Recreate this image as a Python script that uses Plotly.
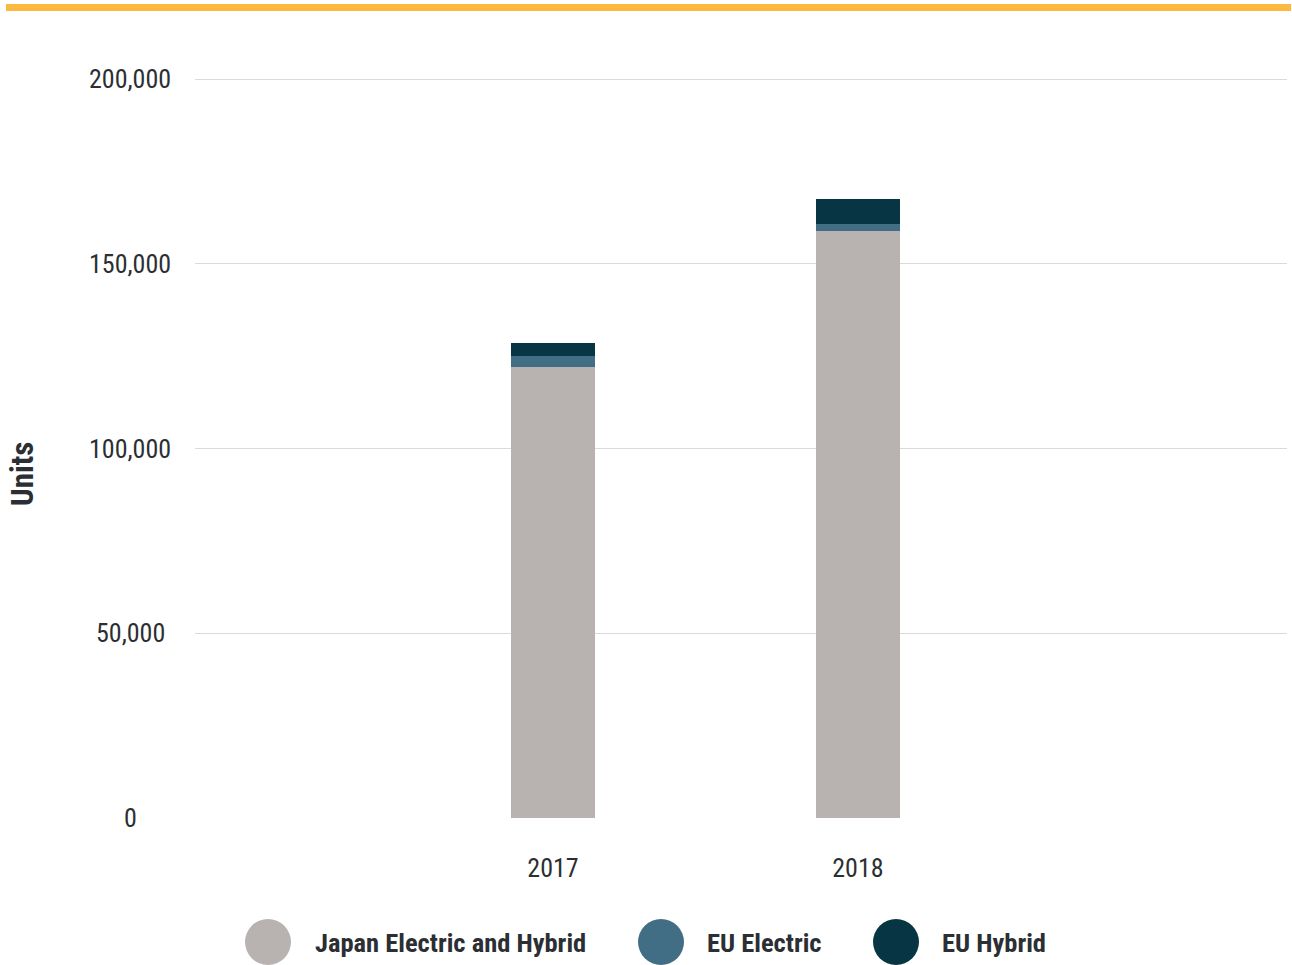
import plotly.graph_objects as go

years = [2017, 2018]
japan = [122000, 159000]
eu_electric = [3000, 1700]
eu_hybrid = [3500, 6800]
series_names = ["Japan Electric and Hybrid", "EU Electric", "EU Hybrid"]
colors = ["#B8B3B0", "#416E85", "#083544"]
y_ticks = [0, 50000, 100000, 150000, 200000]
y_tick_labels = ["0", "50,000", "100,000", "150,000", "200,000"]

W, H = 1292, 965
ML, MR, MT, MB = 195, 5, 77, 147
PW = W - ML - MR
PH = H - MT - MB
Y_MAX = 200000 * (H - MB - MT) / (H - MB - 79)  # keep 200,000 at pixel 79

FONT = "Roboto Condensed, Liberation Sans Narrow, Roboto, sans-serif"
TXT = "#2B2F33"

fig = go.Figure()
for name, vals, col in zip(series_names, [japan, eu_electric, eu_hybrid], colors):
    fig.add_trace(go.Bar(x=years, y=vals, name=name, marker_color=col,
                         marker_line_width=0, width=0.275, showlegend=False))

def px_x(p):
    return (p - ML) / PW

def px_y(p):
    return (H - MB - p) / PH

shapes = [
    dict(type="rect", xref="paper", yref="paper", x0=px_x(6), x1=px_x(1291),
         ysizemode="pixel", yanchor=1, y0=MT - 11, y1=MT - 4,
         fillcolor="#FBB93F", line_width=0, layer="above"),
]
annotations = []
# y tick labels, centred like the reference
for v, t in zip(y_ticks, y_tick_labels):
    annotations.append(dict(x=px_x(130), xref="paper", y=v, yref="y", text=t,
                            showarrow=False, xanchor="center", yanchor="middle",
                            font=dict(family=FONT, size=26, color=TXT)))
# axis title
annotations.append(dict(x=px_x(22), xref="paper", y=px_y(474), yref="paper",
                        text="<b>Units</b>", textangle=-90, showarrow=False,
                        xanchor="center", yanchor="middle",
                        font=dict(family=FONT, size=31, color=TXT)))
# legend
legend_circle_x = [268, 661, 896]
legend_text_x = [313, 705, 940]
leg_y = px_y(942)
for name, col, cx, tx in zip(series_names, colors, legend_circle_x, legend_text_x):
    shapes.append(dict(type="circle", xref="paper", yref="paper",
                       xsizemode="pixel", ysizemode="pixel",
                       xanchor=px_x(cx), yanchor=leg_y,
                       x0=-23, x1=23, y0=-23, y1=23,
                       fillcolor=col, line_width=0))
    annotations.append(dict(x=px_x(tx), xref="paper", y=leg_y, yref="paper",
                            text="<b>" + name + "</b>", showarrow=False,
                            xanchor="left", yanchor="middle",
                            font=dict(family=FONT, size=26.5, color=TXT)))

fig.update_layout(
    width=W, height=H,
    margin=dict(l=ML, r=MR, t=MT, b=MB),
    paper_bgcolor="white", plot_bgcolor="white",
    barmode="stack", bargap=0,
    font=dict(family=FONT, size=26, color=TXT),
    shapes=shapes, annotations=annotations,
    xaxis=dict(range=[2015.826, 2019.407], tickvals=years, ticktext=[str(y) for y in years],
               showgrid=False, zeroline=False, showline=False, ticks="",
               ticklabelstandoff=32, tickfont=dict(family=FONT, size=26, color=TXT)),
    yaxis=dict(range=[0, Y_MAX], tickvals=y_ticks, showticklabels=False,
               showgrid=True, gridcolor="#DADADA", gridwidth=1, zeroline=False,
               showline=False, ticks=""),
)

fig.write_html("out.html")
